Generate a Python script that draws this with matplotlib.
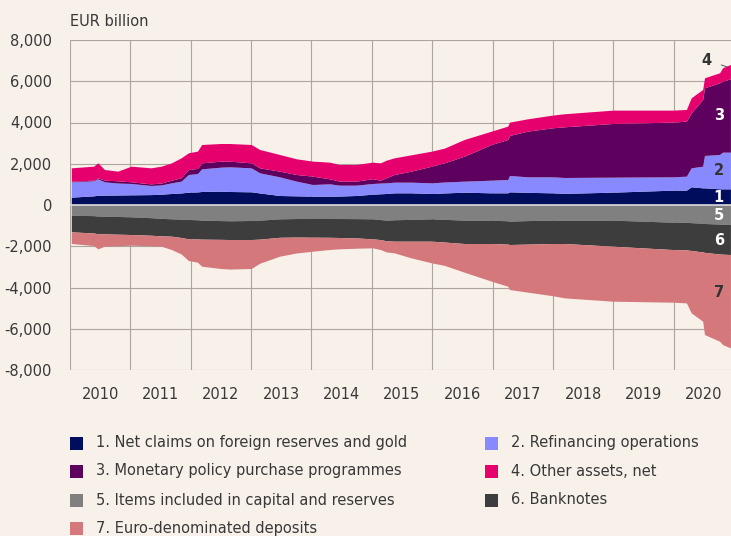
import matplotlib
matplotlib.use("Agg")
import matplotlib.pyplot as plt
from matplotlib.patches import Rectangle
import numpy as np

plt.rcParams['font.family'] = ['DejaVu Sans']
FS = 10.5

# Time (decimal years)
dates = [2010.03, 2010.40, 2010.47, 2010.58, 2010.80, 2011.02, 2011.35, 2011.52, 2011.69,
         2011.85, 2011.97, 2012.12, 2012.19, 2012.51, 2012.65, 2013.01, 2013.15, 2013.48,
         2013.76, 2014.03, 2014.31, 2014.47, 2014.75, 2015.02, 2015.15, 2015.25, 2015.38,
         2015.66, 2016.00, 2016.21, 2016.54, 2016.99, 2017.26, 2017.29, 2017.59, 2018.00,
         2018.20, 2019.00, 2019.99, 2020.22, 2020.30, 2020.49, 2020.52, 2020.77, 2020.82,
         2020.95]

# Assets (EUR billion)
foreign_reserves = [356, 420, 450, 453, 460, 469, 480, 500, 534, 560, 598, 610, 631, 647, 631,
                    615, 560, 437, 420, 404, 404, 410, 437, 500, 520, 534, 566, 566, 534, 560,
                    598, 566, 566, 614, 590, 566, 540, 598, 695, 695, 857, 808, 808, 760, 760, 760]
refinancing = [743, 730, 795, 646, 580, 550, 442, 450, 517, 572, 857, 890, 1099, 1163, 1196,
               1163, 976, 905, 712, 566, 599, 528, 501, 519, 520, 517, 517, 517, 517, 530, 534,
               614, 647, 793, 752, 776, 770, 728, 647, 679, 921, 1051, 1569, 1665, 1778, 1778]
purchase_programmes = [31, 30, 45, 81, 110, 81, 78, 90, 129, 168, 242, 250, 290, 292, 275, 242,
                       242, 275, 323, 404, 242, 194, 194, 231, 140, 249, 372, 534, 808, 931,
                       1212, 1730, 1940, 1940, 2215, 2376, 2457, 2602, 2651, 2668, 2668, 3234,
                       3281, 3475, 3444, 3557]
other_assets = [648, 678, 730, 517, 467, 758, 778, 818, 840, 964, 809, 837, 890, 856, 856, 890,
                890, 808, 760, 728, 808, 808, 808, 803, 840, 850, 808, 792, 728, 711, 808, 647,
                646, 646, 598, 615, 633, 647, 582, 566, 727, 485, 485, 486, 646, 695]
# Liabilities (EUR billion, shown below zero)
capital_reserves = [517, 540, 560, 565, 580, 598, 640, 670, 695, 710, 728, 740, 760, 780, 790,
                    776, 760, 695, 680, 679, 679, 680, 685, 695, 730, 760, 740, 720, 695, 720,
                    760, 760, 790, 808, 780, 760, 760, 760, 857, 870, 880, 910, 920, 950, 955, 970]
banknotes = [809, 840, 860, 858, 860, 857, 850, 850, 841, 890, 937, 930, 920, 910, 908, 922, 920,
             895, 900, 906, 911, 920, 935, 970, 970, 1000, 1038, 1058, 1083, 1100, 1131, 1131,
             1130, 1132, 1140, 1131, 1131, 1261, 1326, 1330, 1350, 1390, 1400, 1450, 1455, 1455]
euro_deposits = [565, 609, 730, 598, 560, 517, 510, 501, 647, 800, 1051, 1130, 1311, 1414, 1432,
                 1406, 1170, 916, 770, 679, 590, 550, 500, 437, 483, 540, 566, 809, 1051, 1130,
                 1391, 1827, 2041, 2182, 2330, 2529, 2636, 2667, 2554, 2569, 3024, 3358, 3985,
                 4228, 4380, 4527]

labels = ["1. Net claims on foreign reserves and gold", "2. Refinancing operations",
          "3. Monetary policy purchase programmes", "4. Other assets, net",
          "5. Items included in capital and reserves", "6. Banknotes",
          "7. Euro-denominated deposits"]
colors = ["#000c5c", "#8888ff", "#5e005e", "#e6006e", "#808080", "#3d3d3d", "#d4787c"]
year_labels = [str(y) for y in range(2010, 2021)]

bg = "#f7f1ea"
fig = plt.figure(figsize=(7.31, 5.36), dpi=100, facecolor=bg)
W, H = 731, 536
ax = fig.add_axes([70 / W, 1 - 370 / H, 661 / W, 330 / H])
ax.set_facecolor(bg)

t = np.array(dates)
pos = [np.array(s, float) for s in (foreign_reserves, refinancing, purchase_programmes, other_assets)]
neg = [-np.array(s, float) for s in (capital_reserves, banknotes, euro_deposits)]
ax.stackplot(t, *pos, colors=colors[:4], linewidth=0, zorder=2)
ax.stackplot(t, *neg, colors=colors[4:], linewidth=0, zorder=2)

ax.set_xlim(2010, 2010 + 661 / 60.36)
ax.set_ylim(-8000, 8000)
ax.set_yticks(np.arange(-8000, 8001, 2000))
ax.set_yticklabels([f"{v:,}" for v in range(-8000, 8001, 2000)])
ax.set_xticks(np.arange(2010, 2021), minor=False)
ax.set_xticklabels([])
ax.set_xticks(np.arange(2010.5, 2021), minor=True)
ax.set_xticklabels(year_labels, minor=True)
ax.tick_params(axis='both', which='both', length=0, labelsize=FS, colors="#383838")
ax.tick_params(axis='y', pad=13)
ax.tick_params(axis='x', which='minor', pad=12)
ax.grid(True, which='major', color="#aaa59e", linewidth=0.8, zorder=0)
ax.set_axisbelow(True)
for s in ax.spines.values():
    s.set_visible(False)
ax.axhline(0, color="#dcdcdc", linewidth=1.2, zorder=3)

fig.text(70 / W, 1 - 22 / H, "EUR billion", fontsize=FS, color="#383838", va='center', ha='left')

# Area labels at the right edge
xl = t[-1] - 0.2
cum = np.cumsum([p[-1] for p in pos])
lows = np.concatenate([[0], cum[:-1]])
txtcol = ["white", "#333333", "white", "#333333", "white", "white", "#333333"]
for i in range(3):
    ax.text(xl, (lows[i] + cum[i]) / 2, str(i + 1), color=txtcol[i], fontsize=FS,
            fontweight='bold', ha='center', va='center', zorder=4)
ax.annotate("4", xy=(t[-1] - 0.06, cum[3] - 100), xytext=(t[-1] - 0.4, cum[3] + 240),
            color="#333333", fontsize=FS, fontweight='bold', ha='center', va='center',
            arrowprops=dict(arrowstyle='-', color="#555555", lw=0.7, shrinkA=5, shrinkB=0), zorder=4)
ncum = np.cumsum([n[-1] for n in neg])
nhigh = np.concatenate([[0], ncum[:-1]])
nmid = [(nhigh[i] + ncum[i]) / 2 for i in range(3)]
nmid[2] = nhigh[2] + (ncum[2] - nhigh[2]) * 0.4
for i in range(3):
    ax.text(xl, nmid[i], str(i + 5), color=txtcol[i + 4], fontsize=FS,
            fontweight='bold', ha='center', va='center', zorder=4)

# Legend (manual, two columns)
rows_y = [443, 471, 500, 528]
col_x = [70, 485]
for i, (lab, c) in enumerate(zip(labels, colors)):
    r, col = divmod(i, 2)
    x0 = col_x[col]
    y0 = rows_y[r]
    fig.patches.append(Rectangle((x0 / W, 1 - (y0 + 6.5) / H), 13 / W, 13 / H,
                                 transform=fig.transFigure, facecolor=c, edgecolor='none'))
    fig.text((x0 + 26) / W, 1 - y0 / H, lab, fontsize=FS, color="#383838", va='center', ha='left')

fig.savefig("out.png", dpi=100, facecolor=bg)
